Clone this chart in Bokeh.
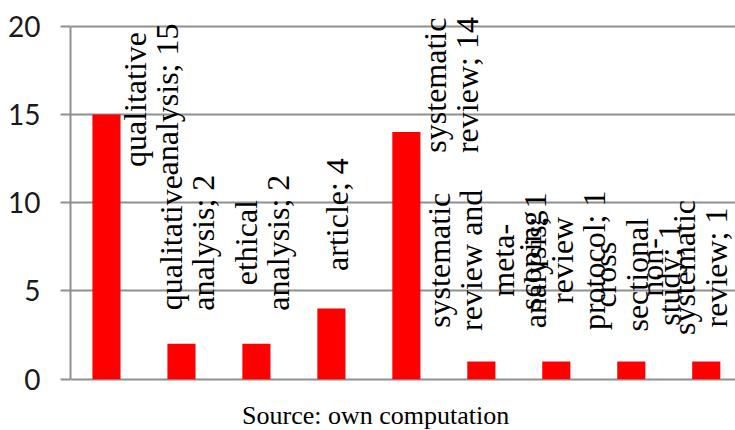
import math
import textwrap

from bokeh.core.properties import value
from bokeh.embed import file_html
from bokeh.models import ColumnDataSource, FixedTicker, Range1d
from bokeh.plotting import figure
from bokeh.resources import INLINE

# ---- data -------------------------------------------------------------
categories = [
    "qualitative analysis",
    "qualitative analysis",
    "ethical analysis",
    "article",
    "systematic review",
    "systematic review and meta-analysis",
    "scoping review protocol",
    "cross sectional study",
    "non-systematic review",
]
counts = [15, 2, 2, 4, 14, 1, 1, 1, 1]
y_ticks = [0, 5, 10, 15, 20]
source_note = "Source: own computation"

# ---- styling / layout -------------------------------------------------
GRID = "#8f8f8f"
BAR = "#ff0000"
LABEL_FONT = "Liberation Serif"
LABEL_SIZE = 32              # px
LINE_STEP_PX = 32            # distance between wrapped label lines
PX_PER_UNIT_Y = 353 / 20
PX_PER_UNIT_X = 75
X_START, X_END = -0.48, 8.39
Y_TOP = 21.0
Y_BOTTOM = Y_TOP - 422 / PX_PER_UNIT_Y   # frame runs to the bottom edge

p = figure(
    width=735, height=430,
    x_range=Range1d(X_START, X_END),
    y_range=Range1d(Y_BOTTOM, Y_TOP),
    min_border_left=70, min_border_right=0,
    min_border_top=8, min_border_bottom=0,
    output_backend="svg", toolbar_location=None,
    outline_line_color=None,
)
p.background_fill_color = "white"

xs = list(range(len(categories)))

# bars
p.vbar(x=xs, top=counts, width=0.375, fill_color=BAR, line_color=None)

# data labels "category; value": wrapped, turned vertical and set above
# each bar; a label that would run past the top is pulled down and set
# beside its bar, and one that would pass the right edge is pulled left
gap = 22 / PX_PER_UNIT_Y
top_limit = Y_TOP - 0.26
char_len = 0.45 * LABEL_SIZE / PX_PER_UNIT_Y
step = LINE_STEP_PX / PX_PER_UNIT_X
edge_pad = 0.6 * LABEL_SIZE / PX_PER_UNIT_X
lx, ly, lt = [], [], []
for i, (cat, n) in enumerate(zip(categories, counts)):
    lines = textwrap.wrap(f"{cat}; {n}", width=12, break_on_hyphens=True)
    half = max(len(s) for s in lines) * char_len / 2
    cy = n + gap + half
    shifted = cy > top_limit - half
    if shifted:
        cy = top_limit - half
    cx = i + (0.6 if shifted else 0.07)
    cx = min(cx, X_END - (len(lines) - 1) * step / 2 - edge_pad)
    for k, s in enumerate(lines):
        lx.append(cx + (k - (len(lines) - 1) / 2) * step)
        ly.append(cy)
        lt.append(s)

src = ColumnDataSource(dict(x=lx, y=ly, text=lt))
p.text(
    x="x", y="y", text="text", source=src, angle=math.pi / 2,
    text_font=value(LABEL_FONT), text_font_size=f"{LABEL_SIZE}px",
    text_align="center", text_baseline="middle", text_color="black",
)

# axes and grid
p.xaxis.visible = False
p.xgrid.visible = False

ticker = FixedTicker(ticks=y_ticks)
yax = p.yaxis[0]
yax.ticker = ticker
yax.bounds = (0, 20)
yax.axis_line_color = GRID
yax.axis_line_width = 2
yax.major_tick_line_color = GRID
yax.major_tick_line_width = 2
yax.major_tick_out = 10
yax.major_tick_in = 0
yax.minor_tick_line_color = None
yax.major_label_text_font = "Lato"
yax.major_label_text_font_size = "28px"
yax.major_label_text_color = "#1a1a1a"
yax.major_label_standoff = 20

p.ygrid.ticker = ticker
p.ygrid.grid_line_color = GRID
p.ygrid.grid_line_width = 2

# source note under the bars
p.text(
    x=[3.59], y=[-2.07], text=[source_note],
    text_font=value(LABEL_FONT), text_font_size="26px",
    text_align="center", text_baseline="middle", text_color="black",
)

open("out.html", "w").write(file_html(p, INLINE))
